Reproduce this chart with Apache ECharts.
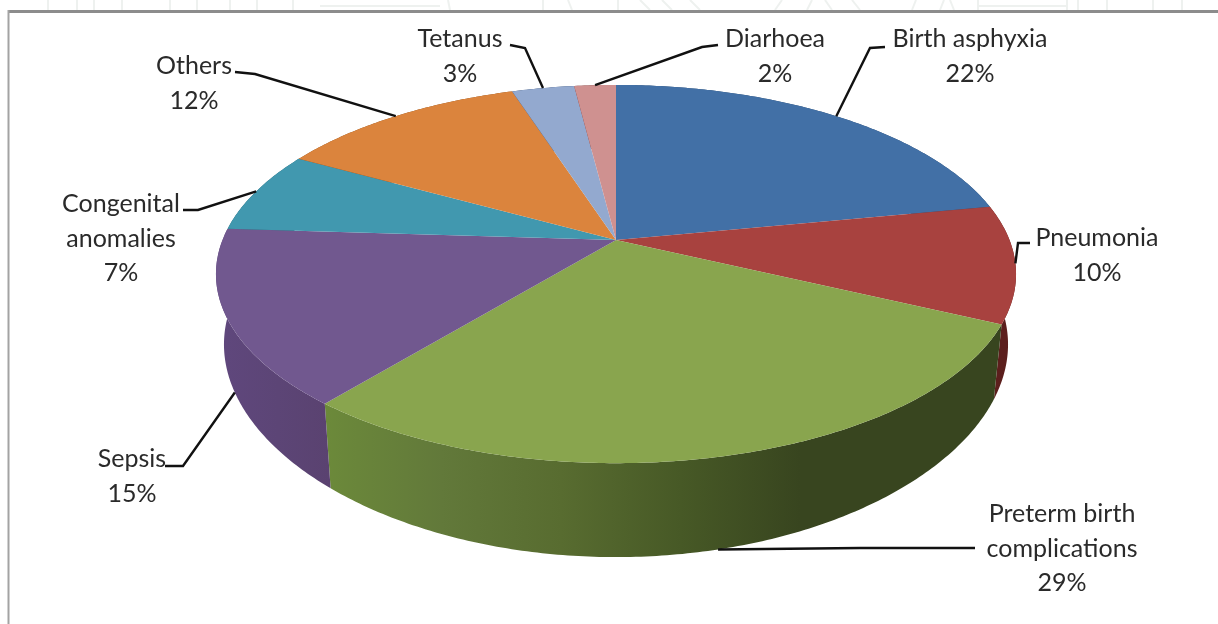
<!DOCTYPE html>
<html>
<head>
<meta charset="utf-8">
<style>html,body{margin:0;padding:0;background:#fff}#chart{width:1218px;height:624px}</style>
<script src="https://cdn.jsdelivr.net/npm/echarts@6/dist/echarts.min.js"></script>
</head>
<body>
<div id="chart"></div>
<script>
// Causes of neonatal death, share of deaths in percent
const causes = ['Birth asphyxia', 'Pneumonia', 'Preterm birth complications', 'Sepsis', 'Congenital anomalies', 'Others', 'Tetanus', 'Diarhoea'];
const shares = [22, 10, 29, 15, 7, 12, 3, 2];
const topColors = ['#4270a6', '#a8423f', '#89a54e', '#71588f', '#4198af', '#db843d', '#93a9cf', '#cf9190'];

// Wrapped label lines, label centres and elbow points of the leader lines
const labelLines = [['Birth asphyxia'], ['Pneumonia'], ['Preterm birth', 'complications'], ['Sepsis'], ['Congenital', 'anomalies'], ['Others'], ['Tetanus'], ['Diarhoea']];
const labelCentres = [[970, 39], [1097, 238], [1062, 514], [132, 459], [121, 204], [194, 66], [460, 39], [775, 39]];
const leaderElbows = [[[885, 47], [870, 48]], [[1030, 243], [1018, 243]], [[975, 548], [860, 548]], [[165, 466], [183, 466]], [[183, 210], [198, 210]], [[235, 72], [255, 74]], [[510, 45], [525, 48]], [[718, 45], [702, 47]]];
const leaderOnRim = [false, false, true, true, false, false, false, false];

// Faint page-header strokes that show above the chart frame: [x at top, x at frame]
const headerStrokes = [[48, 48], [77, 77], [94, 94], [122, 122], [170, 170], [197, 197], [230, 230], [257, 257], [293, 293],
  [448, 450], [543, 543], [568, 572], [618, 618], [640, 650], [662, 672], [690, 700], [782, 775],
  [812, 807], [825, 832], [852, 860], [916, 912], [944, 940], [950, 954], [978, 978], [1067, 1067], [1078, 1078], [1107, 1107], [1153, 1153], [1182, 1182]];
const headerBars = [[320, 440], [978, 1067]];

// Perspective model of the disc
const CX = 616, CY = 240, RX = 393.5, RY = 183, TILT = 0.18, RIM_TILT = 0.22, DEPTH = 68, SHRINK = 0.98;

const total = shares.reduce((a, b) => a + b, 0);
const startShare = i => shares.slice(0, i).reduce((a, b) => a + b, 0);

// Projects a clockwise angle from 12 o'clock onto the top face or the lower rim
function project(angle, lower) {
  const u = Math.sin(angle), v = -Math.cos(angle), d = 1 - TILT * v;
  if (!lower) return [CX + RX * u / d, CY + RY * v / d];
  return [CX + SHRINK * RX * u / d, CY + (SHRINK * RY * v + DEPTH) / (1 - RIM_TILT * v)];
}
function arcPoints(i, lower) {
  const a0 = startShare(i) / total * 2 * Math.PI, a1 = startShare(i + 1) / total * 2 * Math.PI;
  const n = Math.max(8, Math.ceil((a1 - a0) * 90)), pts = [];
  for (let k = 0; k <= n; k++) pts.push(project(a0 + (a1 - a0) * k / n, lower));
  return pts;
}
function wallFill(i) {
  const g = (x0, x1, stops) => new echarts.graphic.LinearGradient(x0, 0, x1, 0, stops.map((c, k) => ({ offset: k / (stops.length - 1), color: c })), true);
  if (i === 2) return g(322, 800, ['#6c8a3a', '#62793a', '#586c30', '#475926', '#38451f']);
  if (i === 3) return g(225, 330, ['#5f477c', '#5c4576', '#5a4270']);
  if (i === 1) return '#5c1f1d';
  return echarts.color.modifyHSL(topColors[i], null, null, 0.3);
}

const strokeStyle = { stroke: '#eef1ef', lineWidth: 2 };
const option = {
  animation: false,
  backgroundColor: '#ffffff',
  graphic: [
    ...headerStrokes.map(([x1, x2]) => ({ type: 'line', z: 0, shape: { x1, y1: 0, x2, y2: 10 }, style: strokeStyle })),
    ...headerBars.map(([x1, x2]) => ({ type: 'line', z: 0, shape: { x1, y1: 6, x2, y2: 6 }, style: strokeStyle })),
    { type: 'line', z: 0, shape: { x1: 8, y1: 11.5, x2: 1218, y2: 11.5 }, style: { stroke: '#8c8c8c', lineWidth: 3 } },
    { type: 'line', z: 0, shape: { x1: 8.5, y1: 10, x2: 8.5, y2: 624 }, style: { stroke: '#a3a3a3', lineWidth: 2 } }
  ],
  series: [
    {
      type: 'custom', coordinateSystem: 'none', z: 1, silent: true, data: shares,
      renderItem(params) {
        const i = params.dataIndex;
        const points = arcPoints(i, false).concat(arcPoints(i, true).reverse());
        return { type: 'polygon', shape: { points }, style: { fill: wallFill(i) } };
      }
    },
    {
      type: 'custom', coordinateSystem: 'none', z: 2, silent: true, data: shares,
      renderItem(params) {
        const i = params.dataIndex;
        return { type: 'polygon', shape: { points: [[CX, CY]].concat(arcPoints(i, false)) }, style: { fill: topColors[i] } };
      }
    },
    {
      type: 'custom', coordinateSystem: 'none', z: 3, silent: true, data: shares,
      renderItem(params) {
        const i = params.dataIndex;
        const mid = (startShare(i) + shares[i] / 2) / total * 2 * Math.PI;
        const end = project(mid, leaderOnRim[i]);
        const lines = labelLines[i].concat(shares[i] + '%');
        const [lx, ly] = labelCentres[i];
        const children = [{ type: 'polyline', shape: { points: leaderElbows[i].concat([end]) }, style: { stroke: '#111', lineWidth: 2.4, fill: null } }];
        lines.forEach((text, k) => children.push({
          type: 'text',
          style: { text, x: lx, y: ly + k * 34.5, align: 'center', verticalAlign: 'middle', fill: '#2a2a2a', font: '25px Lato, sans-serif' }
        }));
        return { type: 'group', children };
      }
    }
  ]
};
echarts.init(document.getElementById('chart'), null, { renderer: 'canvas' }).setOption(option);
</script>
</body>
</html>
